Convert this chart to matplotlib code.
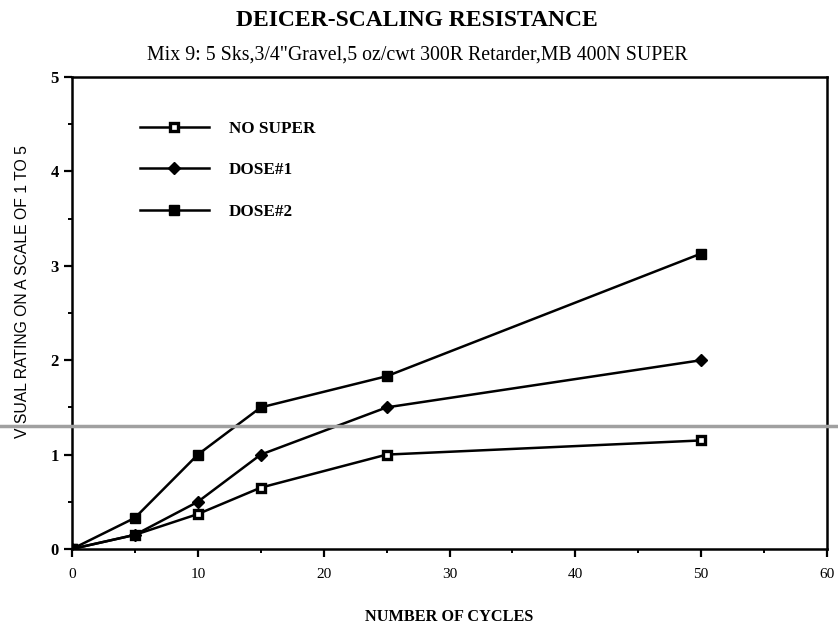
import matplotlib
matplotlib.use('Agg')
import matplotlib.pyplot as plt
from matplotlib.lines import Line2D

# Data
cycles = [0, 5, 10, 15, 25, 50]
no_super = [0, 0.15, 0.37, 0.65, 1.0, 1.15]
dose1 = [0, 0.15, 0.5, 1.0, 1.5, 2.0]
dose2 = [0, 0.33, 1.0, 1.5, 1.83, 3.13]

x_ticks = [0, 10, 20, 30, 40, 50, 60]
y_ticks = [0, 1, 2, 3, 4, 5]

plt.rcParams['font.family'] = ['Liberation Serif', 'DejaVu Serif']

fig = plt.figure(figsize=(8.38, 6.26), dpi=100)
ax = fig.add_axes([0.0859, 0.123, 0.901, 0.754])

lw = 1.8
ax.plot(cycles, no_super, color='black', lw=lw, marker='s', ms=6,
        mfc='white', mec='black', mew=2.4, label='NO SUPER')
ax.plot(cycles, dose1, color='black', lw=lw, marker='D', ms=6,
        mfc='black', mec='black', label='DOSE#1')
ax.plot(cycles, dose2, color='black', lw=lw, marker='s', ms=7.5,
        mfc='black', mec='black', label='DOSE#2')

ax.set_xlim(0, 60)
ax.set_ylim(0, 5)
ax.set_xticks(x_ticks)
ax.set_xticklabels([str(t) for t in x_ticks], fontsize=11)
ax.set_xticks([5, 15, 25, 35, 45, 55], minor=True)
ax.set_yticks(y_ticks)
ax.set_yticklabels([str(t) for t in y_ticks], fontsize=12, fontweight='bold')
ax.set_yticks([0.5, 1.5, 2.5, 3.5, 4.5], minor=True)
ax.tick_params(axis='both', which='major', direction='out', length=6, width=1.6)
ax.tick_params(axis='both', which='minor', direction='out', length=3, width=1.4)
ax.tick_params(axis='x', pad=8)

for sp in ax.spines.values():
    sp.set_linewidth(1.8)

ax.set_xlabel('NUMBER OF CYCLES', fontsize=11.7, fontweight='bold', labelpad=20)
ax.set_ylabel('VISUAL RATING ON A SCALE OF 1 TO 5', fontsize=11.3,
              family=['Liberation Sans', 'DejaVu Sans'])
ax.yaxis.set_label_coords(-0.055, 0.545)

leg = ax.legend(loc='upper left', bbox_to_anchor=(0.07, 0.94), frameon=False,
                numpoints=1, handlelength=4.0, handletextpad=1.2,
                labelspacing=1.5, prop={'size': 12.3, 'weight': 'bold'})

fig.text(0.498, 0.968, 'DEICER-SCALING RESISTANCE', ha='center', va='center',
         fontsize=17, fontweight='bold')
fig.text(0.498, 0.912, 'Mix 9: 5 Sks,3/4"Gravel,5 oz/cwt 300R Retarder,MB 400N SUPER',
         ha='center', va='center', fontsize=14.3)

# gray scan streak across the page
fig.add_artist(Line2D([0, 1], [0.3195, 0.3195], transform=fig.transFigure,
                      color='#a0a0a0', lw=2.5, zorder=10))

fig.savefig('out.png', dpi=100)
